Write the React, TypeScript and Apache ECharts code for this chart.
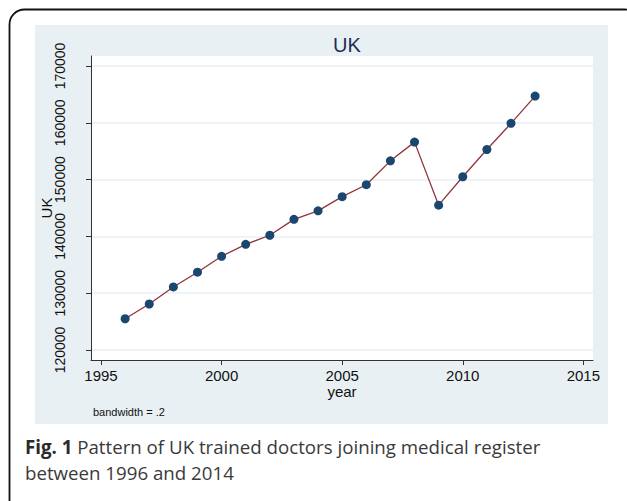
import React, { useEffect, useRef } from "react";
import * as echarts from "echarts";

const years = [1996, 1997, 1998, 1999, 2000, 2001, 2002, 2003, 2004, 2005, 2006, 2007, 2008, 2009, 2010, 2011, 2012, 2013];
const doctors = [125500, 128100, 131100, 133700, 136500, 138600, 140200, 143000, 144500, 147000, 149100, 153300, 156600, 145500, 150500, 155300, 159900, 164700];
const xTicks = [1995, 2000, 2005, 2010, 2015];
const yTicks = [120000, 130000, 140000, 150000, 160000, 170000];
const titleText = "UK";
const xName = "year";
const yName = "UK";
const note = "bandwidth = .2";
const captionBold = "Fig. 1";
const captionLine1 = " Pattern of UK trained doctors joining medical register";
const captionLine2 = "between 1996 and 2014";

export default function App() {
  const ref = useRef<HTMLDivElement>(null);
  useEffect(() => {
    if (!ref.current) return;
    const chart = echarts.init(ref.current, null, { renderer: "svg" });
    const axisColor = "#333";
    const panel = "#e8f0f3";
    chart.setOption({
      animation: false,
      backgroundColor: "#fff",
      textStyle: { fontFamily: "Liberation Sans, Arial, sans-serif" },
      graphic: [
        {
          type: "rect",
          z: -10,
          silent: true,
          shape: { x: 9.5, y: 9.5, width: 630, height: 530, r: 15 },
          style: { fill: "#fff", stroke: "#111", lineWidth: 1.8 },
        },
        {
          type: "rect",
          z: -9,
          silent: true,
          shape: { x: 35, y: 25, width: 573, height: 399 },
          style: { fill: panel },
        },
        {
          type: "text",
          left: 93,
          top: 406,
          style: { text: note, fontSize: 11, fill: "#111", fontFamily: "Liberation Sans, Arial, sans-serif" },
        },
        {
          type: "text",
          left: 25,
          top: 437,
          style: {
            text: "{b|" + captionBold + "}{r|" + captionLine1 + "}\n{r|" + captionLine2 + "}",
            rich: {
              b: { fontSize: 18.7, fontWeight: "bold", fill: "#2a2a2a", fontFamily: "Open Sans", lineHeight: 26 },
              r: { fontSize: 18.7, fill: "#3a3a3a", fontFamily: "Open Sans", lineHeight: 26 },
            },
          },
        },
      ],
      title: {
        text: titleText,
        left: 342,
        top: 30,
        textAlign: "center",
        textStyle: { fontSize: 20, fontWeight: "normal", color: "#1c2d55", fontFamily: "Liberation Sans, Arial, sans-serif" },
      },
      grid: {
        left: 91,
        top: 56,
        width: 502,
        height: 304,
        show: true,
        backgroundColor: "#fff",
        borderWidth: 0,
      },
      xAxis: {
        type: "value",
        min: 1994.585,
        max: 2015.4,
        name: xName,
        nameLocation: "middle",
        nameGap: 24,
        nameMoveOverlap: false,
        nameTextStyle: { fontSize: 15, color: "#111" },
        axisLine: { show: true, onZero: false, lineStyle: { color: axisColor, width: 1 } },
        axisTick: { show: true, length: 5, customValues: xTicks, lineStyle: { color: axisColor } },
        axisLabel: { customValues: xTicks, fontSize: 15, color: "#111", margin: 8, formatter: (v: number) => String(v) },
        splitLine: { show: false },
      },
      yAxis: {
        type: "value",
        min: 118239,
        max: 171761,
        name: yName,
        nameLocation: "middle",
        nameGap: 37,
        nameMoveOverlap: false,
        nameRotate: 90,
        nameTextStyle: { fontSize: 15, color: "#111" },
        axisLine: { show: true, onZero: false, lineStyle: { color: axisColor, width: 1 } },
        axisTick: { show: true, length: 5, customValues: yTicks, lineStyle: { color: axisColor } },
        axisLabel: { customValues: yTicks, fontSize: 14, color: "#111", rotate: 90, margin: 24, formatter: (v: number) => String(v) },
        splitLine: { show: true, lineStyle: { color: panel, width: 1.5 } },
      },
      series: [
        {
          type: "line",
          data: years.map((y, i) => [y, doctors[i]]),
          symbol: "circle",
          symbolSize: 9,
          itemStyle: { color: "#1a476f" },
          lineStyle: { color: "#90353b", width: 1.3 },
        },
      ],
    });
    return () => chart.dispose();
  }, []);
  return <div ref={ref} style={{ position: "fixed", left: 0, top: 0, width: 627, height: 501 }} />;
}
